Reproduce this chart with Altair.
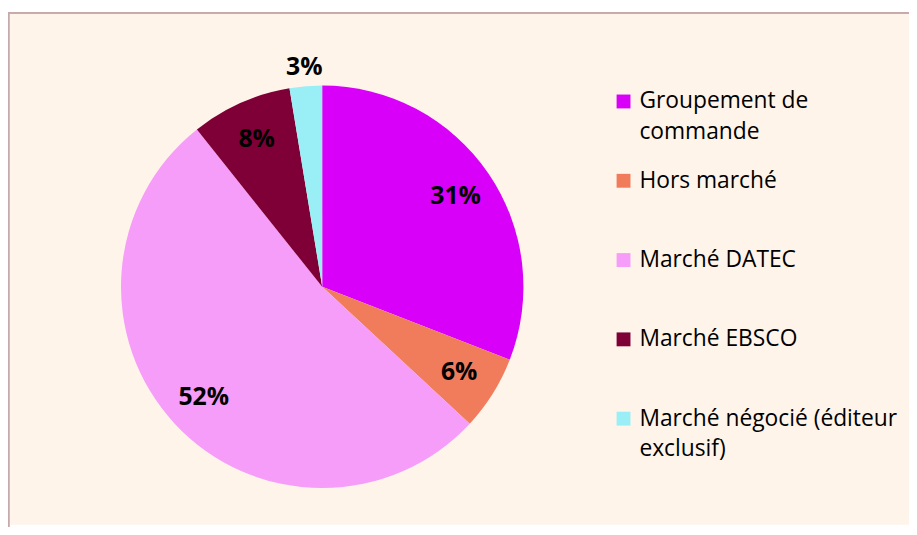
import altair as alt
import pandas as pd

categories = [
    "Groupement de commande",
    "Hors marché",
    "Marché DATEC",
    "Marché EBSCO",
    "Marché négocié (éditeur exclusif)",
]
values = [30.9, 6.0, 52.4, 8.1, 2.6]
labels = ["31%", "6%", "52%", "8%", "3%"]
colors = ["#D800F8", "#F07C5C", "#F59DF8", "#7E0037", "#9AEEF5"]

df = pd.DataFrame({"cat": categories, "value": values, "label": labels,
                   "order": list(range(len(categories)))})

FONT = "Open Sans"
LFS = 23
CX, CY, R = 317, 277, 203

color_scale = alt.Scale(domain=categories, range=colors)

arcs = alt.Chart(df).mark_arc(outerRadius=R, stroke=None).encode(
    theta=alt.Theta("value:Q", stack=True),
    order=alt.Order("order:Q"),
    x=alt.value(CX), y=alt.value(CY),
    color=alt.Color("cat:N", sort=categories, scale=color_scale, legend=None),
)

texts = alt.Chart(df).transform_stack(
    stack="value", as_=["s0", "s1"], groupby=[],
    sort=[alt.SortField("order", order="ascending")],
).transform_calculate(
    mid="(datum.s0 + datum.s1) / 2",
    r="datum.value < 5 ? 222 : 163",
).mark_text(font=FONT, fontSize=25, fontWeight="bold", color="#000000").encode(
    theta=alt.Theta("mid:Q", stack=None),
    x=alt.value(CX), y=alt.value(CY),
    radius=alt.Radius("r:Q", scale=None),
    text="label:N",
)

# manual legend
leg_y = alt.Y("cat:N", sort=categories,
              scale=alt.Scale(domain=categories, range=[90, 410], padding=0), axis=None)

leg_sym = alt.Chart(df).mark_square(size=196, opacity=1, strokeWidth=0).encode(
    x=alt.value(621), y=leg_y,
    color=alt.Color("cat:N", sort=categories, scale=color_scale, legend=None),
)

split_expr = ("datum.cat == 'Groupement de commande' ? ['Groupement de', 'commande'] : "
              "datum.cat == 'Marché négocié (éditeur exclusif)' ? ['Marché négocié (éditeur', 'exclusif)'] : datum.cat")

leg_txt = alt.Chart(df).transform_calculate(lines=split_expr).mark_text(
    font=FONT, fontSize=LFS, align="left", baseline="top",
    lineHeight=31, dy=-round(0.49 * LFS), color="#000000",
).encode(
    x=alt.value(637), y=leg_y, text="lines:N",
)

border_left = alt.Chart(df).mark_rule(color="#C6A9AD", strokeWidth=1.5).encode(
    x=alt.value(0.5), y=alt.value(0), y2=alt.value(530)
)
border_top = alt.Chart(df).mark_rule(color="#C6A9AD", strokeWidth=1.5).encode(
    x=alt.value(0), x2=alt.value(909), y=alt.value(0.5)
)

chart = alt.layer(arcs, texts, leg_sym, leg_txt, border_left, border_top).properties(
    width=909, height=517,
    autosize=alt.AutoSizeParams(type="none"),
    padding={"left": 0, "top": 2, "right": 0, "bottom": 0},
    background="#FFFFFF",
).configure_view(fill="#FFF4EA", stroke=None)

chart.save("out.html", embed_options={"renderer": "svg", "actions": False})
